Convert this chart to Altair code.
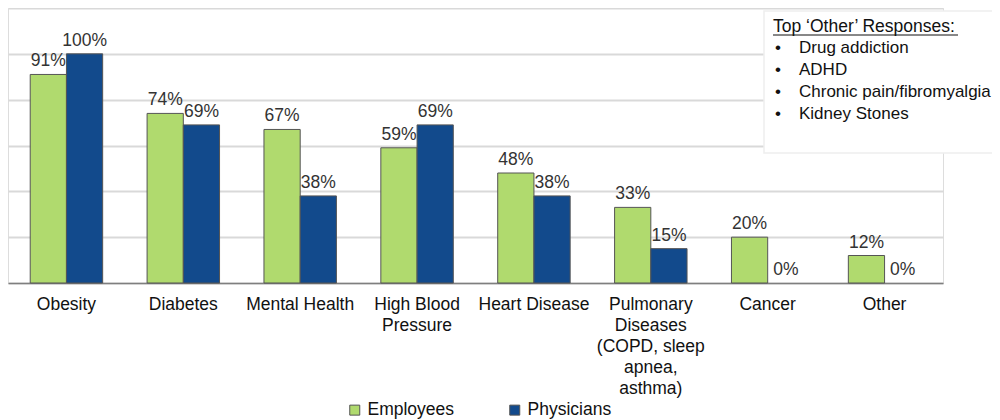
import altair as alt
import pandas as pd

categories = ["Obesity", "Diabetes", "Mental Health", "High Blood\nPressure", "Heart Disease",
              "Pulmonary\nDiseases\n(COPD, sleep\napnea,\nasthma)", "Cancer", "Other"]
employees = [91, 74, 67, 59, 48, 33, 20, 12]
physicians = [100, 69, 38, 69, 38, 15, 0, 0]
series = ["Employees", "Physicians"]
colors = ["#b0da6e", "#124a8c"]
y_ticks = [0, 20, 40, 60, 80, 100, 120]

box_title = "Top \u2018Other\u2019 Responses:"
box_items = ["Drug addiction", "ADHD", "Chronic pain/fibromyalgia", "Kidney Stones"]

rows = []
for c, e, p in zip(categories, employees, physicians):
    rows.append({"cat": c, "series": series[0], "value": e, "label": f"{e}%"})
    rows.append({"cat": c, "series": series[1], "value": p, "label": f"{p}%"})
df = pd.DataFrame(rows)

FONT = "Liberation Sans"
FS = 17.5
FS_BOX = 17
W, H = 935, 275

x_enc = alt.X("cat:N", sort=categories, title=None,
              scale=alt.Scale(paddingInner=0.38, paddingOuter=0.19),
              axis=alt.Axis(labelAngle=0, labelFontSize=FS, labelColor="#111111", labelFont=FONT,
                            labelExpr="split(datum.label, '\\n')", labelLineHeight=21,
                            labelPadding=12, ticks=False, domainColor="#7f7f7f", domainWidth=1.5,
                            labelLimit=200))
y_enc = alt.Y("value:Q", title=None,
              scale=alt.Scale(domain=[0, 120], nice=False),
              axis=alt.Axis(values=y_ticks, labels=False, ticks=False, domain=False,
                            gridColor="#d9d9d9", gridWidth=2))
xoff = alt.XOffset("series:N", sort=series, scale=alt.Scale(domain=series))

bars = alt.Chart(df).transform_filter("datum.value > 0").mark_bar(
    stroke="#555555", strokeWidth=1).encode(
    x=x_enc, y=y_enc, xOffset=xoff,
    color=alt.Color("series:N", sort=series, scale=alt.Scale(domain=series, range=colors),
                    legend=alt.Legend(title=None, orient="none", legendX=338, legendY=393,
                                      direction="horizontal", symbolType="square",
                                      symbolSize=100, symbolStrokeColor="#555555",
                                      symbolStrokeWidth=1, labelFontSize=FS, labelFont=FONT,
                                      labelColor="#111111", columnPadding=51, labelOffset=4))
)

labels = alt.Chart(df).mark_text(baseline="bottom", dy=-4, fontSize=FS, font=FONT,
                                 color="#333333").encode(
    x=alt.X("cat:N", sort=categories), y="value:Q", xOffset=xoff, text="label:N"
)

box = alt.Chart(pd.DataFrame({"a": [0]})).mark_rect(fill="white", stroke="#eeeeee",
                                                   strokeWidth=1.5).encode(
    x=alt.value(756), x2=alt.value(1010), y=alt.value(3), y2=alt.value(145)
)
title_txt = alt.Chart(pd.DataFrame({"t": [box_title]})).mark_text(
    align="left", baseline="middle", fontSize=FS, font=FONT, color="#111111").encode(
    x=alt.value(765), y=alt.value(19), text="t:N")
underline = alt.Chart(pd.DataFrame({"a": [0]})).mark_rule(color="#111111", strokeWidth=1).encode(
    x=alt.value(765), x2=alt.value(950), y=alt.value(27))

item_layers = []
for i, it in enumerate(box_items):
    yy = 40 + 22 * i
    d = pd.DataFrame({"t": [it]})
    item_layers.append(alt.Chart(d).mark_text(align="left", baseline="middle", fontSize=FS_BOX,
                                              font=FONT, color="#111111").encode(
        x=alt.value(767), y=alt.value(yy), text=alt.value("\u2022")))
    item_layers.append(alt.Chart(d).mark_text(align="left", baseline="middle", fontSize=FS_BOX,
                                              font=FONT, color="#111111").encode(
        x=alt.value(791), y=alt.value(yy), text="t:N"))

chart = alt.layer(bars, labels, box, underline, title_txt, *item_layers).properties(
    width=W, height=H,
    autosize=alt.AutoSizeParams(type="none"),
    padding={"left": 0, "top": 0, "right": 49, "bottom": 140},
).configure_view(stroke=None).configure(background="white")

chart.save("out.html", embed_options={"renderer": "svg", "actions": False})
